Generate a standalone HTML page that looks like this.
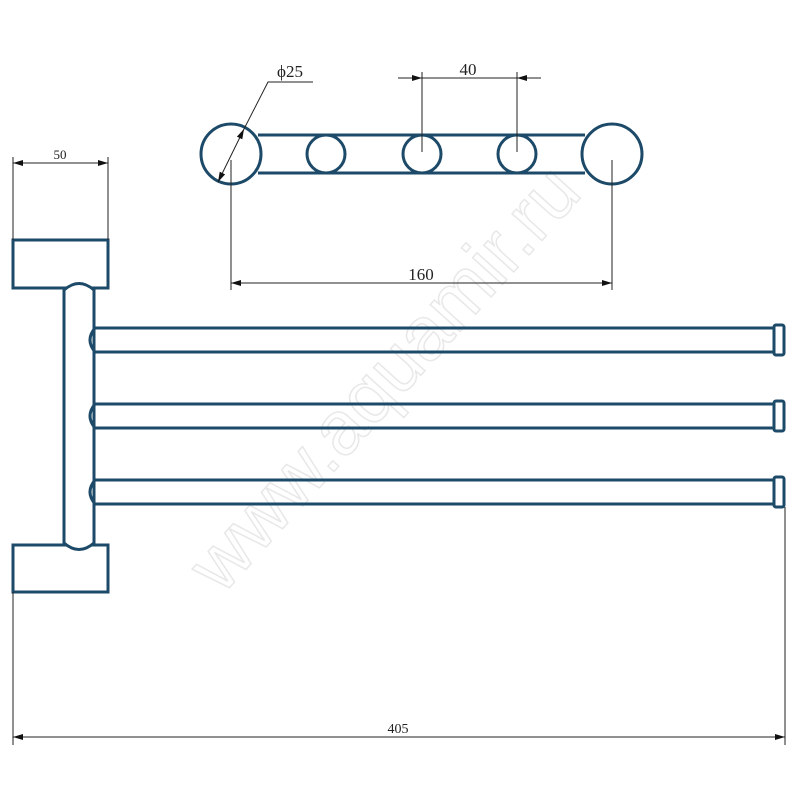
<!DOCTYPE html>
<html><head><meta charset="utf-8"><style>html,body{margin:0;padding:0;background:#fff}svg{display:block}</style></head>
<body>
<svg width="800" height="800" viewBox="0 0 800 800" xmlns="http://www.w3.org/2000/svg" font-family="Liberation Serif, serif">
<defs>
<marker id="a" viewBox="0 0 10 6" refX="10" refY="3" markerWidth="10" markerHeight="6" orient="auto-start-reverse" markerUnits="userSpaceOnUse"><path d="M0,0L10,3L0,6z" fill="#111"/></marker>
</defs>
<text x="0" y="0" transform="translate(222,596) rotate(-48)" font-family="Liberation Sans, sans-serif" font-size="76" fill="none" stroke="#e8e8e8" stroke-width="1.5">www.aquamir.ru</text>

<g fill="none" stroke="#1d4a68" stroke-width="3">
<line x1="258" y1="135" x2="585" y2="135"/>
<line x1="258" y1="173" x2="585" y2="173"/>
<circle cx="231" cy="154" r="30" fill="#fff"/>
<circle cx="612" cy="154" r="30" fill="#fff"/>
<circle cx="326" cy="154" r="19" fill="#fff"/>
<circle cx="422" cy="154" r="19" fill="#fff"/>
<circle cx="517" cy="154" r="19" fill="#fff"/>
<rect x="13" y="240" width="95" height="48" fill="#fff"/>
<rect x="13" y="545" width="95" height="47" fill="#fff"/>
<path d="M64,290 L64,543 Q79,556 94,543 L94,290 Q79,277 64,290 Z" fill="#fff"/>
<path d="M95,328 L775,328 M95,352 L775,352 M95,328 Q85,340 95,352"/>
<path d="M95,404 L775,404 M95,428 L775,428 M95,404 Q85,416 95,428"/>
<path d="M95,480 L775,480 M95,504 L775,504 M95,480 Q85,492 95,504"/>
<rect x="774" y="325" width="10" height="30" rx="2" fill="#fff"/>
<rect x="774" y="401" width="10" height="30" rx="2" fill="#fff"/>
<rect x="774" y="477" width="10" height="30" rx="2" fill="#fff"/>
</g>

<g stroke="#222" stroke-width="1" fill="none">
<line x1="422" y1="72" x2="422" y2="152"/>
<line x1="517" y1="72" x2="517" y2="152"/>
<line x1="398" y1="78" x2="422" y2="78" marker-end="url(#a)"/>
<line x1="422" y1="78" x2="517" y2="78"/>
<line x1="541" y1="78" x2="517" y2="78" marker-end="url(#a)"/>
<line x1="231" y1="160" x2="231" y2="290"/>
<line x1="612" y1="160" x2="612" y2="290"/>
<line x1="231" y1="283" x2="612" y2="283" marker-start="url(#a)" marker-end="url(#a)"/>
<line x1="218" y1="182" x2="244" y2="129" marker-start="url(#a)" marker-end="url(#a)"/>
<polyline points="244,129 268,82 313,82"/>
<line x1="13" y1="157" x2="13" y2="240"/>
<line x1="108" y1="157" x2="108" y2="240"/>
<line x1="13" y1="163" x2="108" y2="163" marker-start="url(#a)" marker-end="url(#a)"/>
<line x1="13" y1="592" x2="13" y2="745"/>
<line x1="785" y1="507" x2="785" y2="745"/>
<line x1="13" y1="737" x2="785" y2="737" marker-start="url(#a)" marker-end="url(#a)"/>
</g>

<g fill="#222" font-size="17" text-anchor="middle">
<text x="290" y="77">ϕ25</text>
<text x="468" y="75">40</text>
<text x="421" y="280">160</text>
<text x="60" y="159" font-size="13">50</text>
<text x="398" y="733" font-size="14">405</text>
</g>
</svg>
</body></html>
